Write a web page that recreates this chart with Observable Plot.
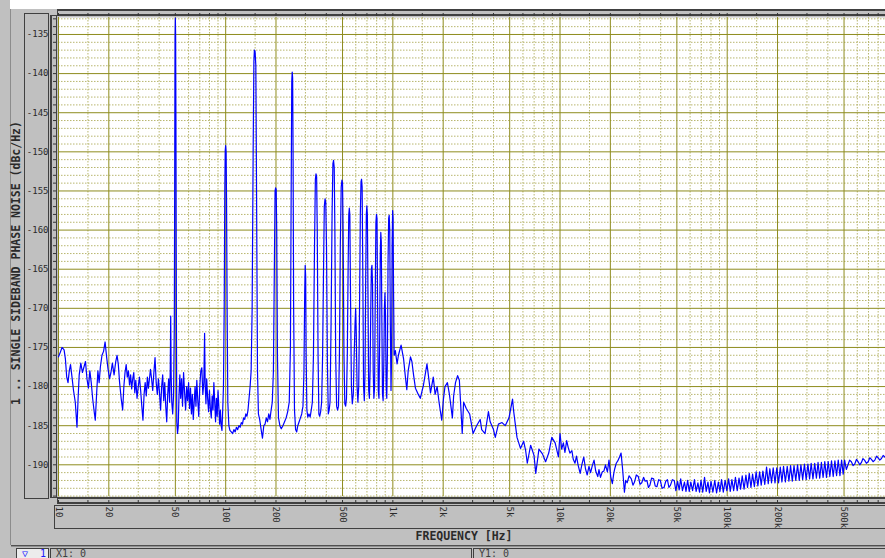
<!DOCTYPE html>
<html><head><meta charset="utf-8">
<script src="https://cdn.jsdelivr.net/npm/d3@7"></script>
<script src="https://cdn.jsdelivr.net/npm/@observablehq/plot@0.6"></script>
<style>
html,body{margin:0;padding:0;background:#c0c0c0;}
#wrap{position:relative;width:885px;height:558px;overflow:hidden;background:#c0c0c0;font-family:"DejaVu Sans Mono",monospace;}
.abs{position:absolute;box-sizing:border-box;}
#chart{position:absolute;left:0;top:0;}
.st{font-size:10px;color:#404040;line-height:10px;padding-left:5px;white-space:pre;}
</style></head><body>
<div id="wrap">
 <div class="abs" style="left:10px;top:0;width:875px;height:9px;background:#fff"></div>
 <div class="abs" style="left:10px;top:9px;width:1px;height:536px;background:#8c8c8c"></div>
 <div class="abs" style="left:24px;top:13px;width:25px;height:486px;border:1px solid #404040"></div>
 <div class="abs" style="left:50px;top:15px;width:7px;height:483px;border:1px solid #404040;border-left-width:2px"></div>
 <div class="abs" style="left:57px;top:9px;width:830px;height:7px;border-style:solid;border-color:#404040;border-width:2px 0 2px 1px"></div>
 <div class="abs" style="left:57px;top:497px;width:830px;height:7px;border-style:solid;border-color:#404040;border-width:2px 0 2px 1px"></div>
 <div class="abs" style="left:54px;top:505px;width:835px;height:24px;border:1px solid #404040"></div>
 <div class="abs" style="left:11px;top:545px;width:874px;height:2px;border-top:1px solid #505050;border-bottom:1px solid #909090"></div>
 <div class="abs st" style="left:16px;top:548px;width:33px;height:12px;border:1px solid #404040;background:#ececec;color:#1a1aff">▽  1</div>
 <div class="abs st" style="left:50px;top:548px;width:422px;height:12px;border:1px solid #404040">X1: 0</div>
 <div class="abs st" style="left:473px;top:548px;width:414px;height:12px;border:1px solid #404040">Y1: 0</div>
 <div id="chart"></div>
</div>
<script>
// Measured trace: [frequency Hz, dBc/Hz]
const band10to100 = [
 [10,-176.2],[10.3,-175.5],[10.5,-175.0],[10.8,-175.3],[11.0,-176.5],[11.2,-178.8],[11.4,-179.5],[11.6,-178.0],
 [11.8,-177.2],[12.0,-178.5],[12.3,-180.5],[12.6,-182.0],[12.9,-185.2],[13.1,-181.5],[13.3,-178.5],[13.6,-177.0],
 [13.9,-178.2],[14.2,-177.5],[14.5,-176.8],[14.8,-179.0],[15.1,-180.2],[15.4,-178.0],[15.7,-179.5],[16.0,-181.5],
 [16.3,-183.0],[16.6,-184.3],[16.9,-181.0],[17.2,-178.0],[17.5,-179.5],[17.8,-177.5],[18.2,-176.0],[18.6,-175.5],
 [19.0,-174.3],[19.4,-176.2],[19.8,-177.8],[20.2,-179.0],[20.6,-178.2],[21.0,-177.0],[21.5,-178.5],[22.0,-176.8],
 [22.4,-176.0],[22.8,-177.2],[23.2,-179.5],[23.7,-181.5],[24.2,-183.0],[24.6,-180.0],[25.0,-178.2],[25.4,-177.2],
 [25.8,-178.8],[26.2,-178.0],[26.6,-179.8],[27.0,-178.5],[27.4,-180.3],[27.8,-179.0],[28.2,-178.2],[28.6,-180.8],
 [29.0,-179.2],[29.5,-181.5],[30.0,-180.0],[30.5,-178.8],[31.0,-180.5],[31.5,-182.5],[32.0,-184.3],[32.5,-181.0],
 [33.0,-179.5],[33.5,-181.2],[34.0,-178.8],[34.5,-180.2],[35.0,-179.0],[35.5,-177.8],[36.0,-178.9],[36.6,-180.5],
 [37.2,-178.2],[37.8,-176.3],[38.4,-179.5],[39.0,-181.0],[39.6,-179.0],[40.2,-180.8],[40.8,-183.0],[41.4,-180.0],
 [42.0,-178.5],[42.6,-181.8],[43.2,-179.5],[43.8,-182.5],[44.4,-184.5],[45.0,-181.0],[45.6,-179.0],[46.2,-182.0],
 [46.6,-178.0],[46.9,-171.0],[47.2,-178.5],[47.6,-182.0],[48.2,-183.5],[48.8,-181.0],[49.3,-172.0],[49.6,-150.0],
 [49.8,-135.5],[50.0,-132.9],[50.2,-135.2],[50.4,-146.0],[50.7,-170.0],[51.0,-184.5],[51.5,-186.0],[52.0,-185.2],
 [52.6,-181.0],[53.2,-178.5],[53.8,-181.5],[54.5,-179.0],[55.2,-182.5],[56.0,-178.2],[56.8,-180.8],[57.6,-183.0],
 [58.4,-180.0],[59.2,-181.8],[60.0,-179.5],[60.8,-182.8],[61.6,-180.2],[62.4,-183.5],[63.2,-181.0],[64.0,-184.2],
 [64.8,-182.0],[65.6,-180.0],[66.4,-182.5],[67.2,-179.2],[68.0,-181.5],[69.0,-183.8],[70.0,-180.0],[71.0,-178.0],
 [72.0,-177.6],[73.0,-181.0],[74.0,-179.5],[74.8,-173.2],[75.4,-179.8],[76.2,-182.2],[77.0,-179.0],[78.0,-181.5],
 [79.0,-183.2],[80.0,-180.5],[81.0,-182.8],[82.0,-184.0],[83.0,-181.2],[84.0,-183.0],[85.0,-179.5],[86.0,-182.0],
 [87.0,-184.5],[88.0,-181.5],[89.0,-183.8],[90.0,-180.5],[91.0,-182.5],[92.0,-184.8],[93.0,-183.0],[94.0,-185.0],
 [95.0,-185.6],[96.0,-183.0],[97.0,-180.0],[98.0,-170.0],[98.8,-155.0],[99.4,-149.8],[100.0,-149.2]
];
const band100to1k = [
 [100.6,-150.0],[101.2,-156.0],[102,-170.0],[103,-182.0],[104.5,-185.0],[106,-185.6],[108,-185.8],[110,-186.0],
 [112,-185.5],[114,-185.8],[116,-185.2],[118,-185.5],[120,-185.0],[122,-185.2],[124,-184.6],[126,-184.8],
 [128,-184.0],[130,-184.2],[132,-183.5],[134,-183.8],[136,-183.0],[138,-181.5],[140,-180.0],[142,-178.0],
 [144,-170.0],[146,-150.0],[147.5,-138.5],[148.5,-137.0],[150,-137.2],[151.5,-139.0],[153,-155.0],[155,-178.0],
 [157,-183.5],[160,-184.3],[163,-185.5],[166,-186.6],[169,-185.0],[172,-184.8],[175,-184.0],[178,-184.5],
 [181,-183.5],[184,-184.2],[187,-183.0],[190,-182.0],[193,-178.0],[195.5,-165.0],[197.5,-155.0],[199,-154.6],
 [200.5,-154.8],[202,-160.0],[204,-176.0],[207,-184.0],[211,-185.0],[215,-185.4],[220,-185.0],[225,-184.5],
 [230,-184.0],[235,-183.2],[240,-182.0],[244,-175.0],[246.5,-155.0],[248.5,-141.0],[250,-139.8],[251.5,-140.5],
 [253,-150.0],[255,-170.0],[258,-183.0],[262,-185.5],[266,-185.8],[270,-185.0],[275,-184.5],[280,-184.0],
 [285,-183.5],[290,-182.5],[294,-178.0],[297,-168.0],[299,-164.5],[301,-166.0],[303,-176.0],[306,-183.0],
 [310,-183.9],[315,-183.5],[320,-183.9],[325,-183.0],[330,-182.0],[335,-176.0],[340,-162.0],[344,-153.5],
 [347,-152.8],[350,-153.2],[353,-160.0],[357,-176.0],[361,-183.5],[365,-183.8],[370,-183.2],[375,-182.0],
 [380,-176.0],[385,-165.0],[389,-157.0],[393,-156.0],[397,-156.5],[401,-162.0],[406,-177.0],[411,-183.5],
 [416,-183.0],[421,-182.0],[427,-172.0],[433,-158.0],[438,-151.5],[442,-151.1],[446,-152.0],[450,-160.0],
 [455,-176.0],[461,-182.5],[467,-183.0],[473,-182.5],[479,-176.0],[485,-162.0],[491,-154.5],[496,-153.6],
 [500,-154.0],[504,-160.0],[510,-176.0],[516,-182.2],[522,-182.5],[528,-181.5],[534,-176.0],[540,-165.0],
 [545,-158.0],[549,-157.2],[553,-158.0],[558,-168.0],[565,-180.0],[572,-182.2],[580,-181.0],[587,-176.0],
 [594,-172.0],[599,-170.0],[604,-173.0],[611,-180.0],[618,-182.0],[625,-180.0],[632,-170.0],[639,-158.0],
 [645,-153.8],[650,-153.5],[655,-154.5],[661,-165.0],[668,-180.0],[675,-181.8],[682,-178.0],[688,-166.0],
 [694,-158.0],[699,-156.9],[704,-158.0],[710,-168.0],[717,-180.5],[724,-181.5],[731,-178.0],[738,-170.0],
 [744,-165.0],[750,-164.5],[756,-167.0],[763,-178.0],[770,-181.5],[778,-180.0],[785,-168.0],[792,-159.0],
 [798,-158.0],[804,-158.5],[811,-170.0],[818,-180.5],[826,-181.5],[834,-174.0],[841,-163.0],[847,-160.3],
 [853,-161.5],[860,-172.0],[867,-181.0],[875,-181.8],[883,-177.0],[890,-170.0],[897,-168.0],[904,-171.0],
 [912,-180.0],[920,-181.5],[928,-176.0],[936,-164.0],[944,-158.5],[951,-158.1],[958,-160.0],[966,-172.0],
 [975,-180.5],[983,-176.0],[990,-162.0],[997,-157.5],[1003,-158.5],[1010,-168.0],[1018,-176.0]
];
const band1kto10k = [
 [1035,-175.4],[1060,-177.1],[1080,-176.0],[1120,-174.7],[1160,-176.5],[1185,-178.5],[1212,-180.4],[1235,-178.0],
 [1275,-176.2],[1300,-176.8],[1330,-178.5],[1365,-180.2],[1420,-181.0],[1460,-181.5],[1525,-179.8],[1600,-177.1],
 [1630,-178.5],[1680,-180.8],[1745,-178.8],[1790,-181.0],[1840,-180.0],[1890,-182.0],[1960,-184.3],[2010,-181.5],
 [2050,-180.0],[2120,-179.5],[2180,-181.0],[2270,-184.0],[2310,-181.2],[2370,-179.5],[2440,-178.6],[2500,-179.2],
 [2600,-186.0],[2650,-182.0],[2750,-182.8],[2880,-183.5],[3020,-186.0],[3170,-185.0],[3330,-184.2],[3400,-185.5],
 [3560,-186.0],[3730,-183.2],[3820,-184.5],[4000,-185.5],[4100,-186.5],[4280,-184.8],[4500,-184.6],[4700,-185.0],
 [4950,-184.0],[5200,-181.6],[5270,-183.0],[5400,-184.8],[5530,-186.5],[5800,-187.9],[6060,-187.0],[6230,-188.2],
 [6370,-189.8],[6670,-187.5],[6990,-188.8],[7160,-191.1],[7480,-188.0],[7850,-188.6],[8200,-189.6],[8560,-188.5],
 [8930,-186.5],[9350,-187.2],[9780,-189.0]
];
const band10kto900k = [
 [10000,-186.0],[10230,-188.0],[10470,-187.2],[10700,-188.4],[10960,-186.9],[11200,-187.8],[11460,-188.5],[11780,-188.2],
 [12000,-189.3],[12290,-189.8],[12550,-188.9],[12820,-190.0],[13200,-191.1],[13500,-190.0],[13870,-189.0],[14200,-190.5],
 [14540,-191.3],[14900,-190.2],[15240,-191.0],[15600,-190.1],[15980,-189.4],[16350,-190.8],[16820,-191.5],[17100,-190.6],
 [17460,-191.6],[17900,-190.9],[18300,-190.8],[18700,-190.0],[19200,-190.9],[19630,-189.4],[20100,-191.5],[20560,-192.4],
 [21000,-191.0],[21250,-190.5],[21700,-189.8],[22150,-189.5],[22700,-189.0],[23180,-188.5],[23670,-190.5],[24280,-193.5],
 [24700,-192.0],[25200,-192.3],[25900,-191.4],[26700,-191.8],[27300,-192.6],[27900,-192.2],[28600,-191.3],[29400,-191.5],
 [30100,-192.5],[30830,-192.3],[31600,-191.6],[32300,-192.1],[33100,-192.0],[33800,-192.9],[34500,-192.6],[35300,-191.7],
 [36300,-191.8],[37100,-192.7],[38000,-192.8],[38900,-191.9],[39800,-192.0],[40800,-193.0],[41900,-192.9],[42900,-192.1],
 [43900,-191.9],[44800,-192.9],[45800,-192.6],[47000,-191.9],
 [48200,-192.0],[49300,-193.3],[50500,-192.1],[51600,-193.2],[52700,-191.8],[54000,-193.3],[55500,-192.2],[56700,-193.4],
 [58000,-192.0],[59300,-193.4],[60600,-192.2],[62100,-193.3],[63700,-191.9],[65200,-193.4],[66800,-192.3],[68300,-193.5],
 [69700,-192.0],[71400,-193.5],[73200,-191.6],[74900,-193.4],[76700,-192.2],[78300,-193.6],[80000,-192.1],[82100,-193.5],
 [84300,-192.0],[86400,-193.6],[88500,-192.2],[90500,-193.4],[92500,-191.9],[94800,-193.5],[97200,-192.0],[99500,-193.3],
 [102000,-191.8],[104300,-193.4],[106700,-191.9],[109300,-193.3],[112000,-191.6],[114800,-193.3],[117700,-191.7],[120300,-193.1],
 [123000,-191.4],[126200,-193.1],[129400,-191.3],[132300,-192.9],[135500,-191.1],[138700,-192.9],[141800,-191.2],[145400,-192.8],
 [149000,-190.9],[152600,-192.7],[156300,-190.9],[159800,-192.6],[163500,-190.8],[167800,-192.5],[172000,-190.3],[176000,-192.4],
 [180000,-190.5],[184200,-192.3],[188400,-190.4],[193200,-192.3],[198000,-190.4],[202900,-192.3],[207800,-190.3],[212500,-192.2],
 [217300,-190.2],[222900,-192.2],[228600,-190.2],[234000,-192.1],[239400,-190.1],[245200,-192.1],[251000,-190.1],[257200,-192.0],
 [263500,-190.0],[269800,-192.0],[276000,-190.0],[282800,-191.9],[289800,-189.9],[296800,-191.9],[303900,-189.9],[311000,-191.8],
 [318000,-189.8],[325800,-191.8],[333800,-189.8],[341700,-191.7],[349500,-189.7],[357600,-191.7],[366000,-189.7],[374700,-191.6],
 [383500,-189.6],[392600,-191.6],[401900,-189.6],[411200,-191.5],[420700,-189.5],[430700,-191.5],[440800,-189.5],[451100,-191.4],
 [461600,-189.4],[472500,-191.4],[483500,-189.4],[494000,-191.2],[504000,-189.4],[516000,-190.6],
 [528000,-190.0],[540000,-189.4],[553000,-189.6],[566000,-190.1],[579500,-189.9],[593000,-189.3],[606900,-189.6],[621000,-190.0],
 [635400,-189.7],[649000,-189.2],[663000,-189.4],[680000,-189.8],[697000,-189.6],[713000,-189.1],[729000,-189.3],[746000,-189.6],
 [764000,-189.4],[782000,-188.9],[800000,-189.1],[818000,-189.4],[837000,-189.2],[857000,-188.8],[877000,-189.0],[898000,-189.2]
];

// Axis values and labels
const yMajor = [-135,-140,-145,-150,-155,-160,-165,-170,-175,-180,-185,-190];
const yGrid = [-133,-134,-135,-136,-137,-138,-139,-140,-141,-142,-143,-144,-145,-146,-147,-148,-149,-150,-151,-152,-153,-154,-155,-156,-157,-158,-159,-160,-161,-162,-163,-164,-165,-166,-167,-168,-169,-170,-171,-172,-173,-174,-175,-176,-177,-178,-179,-180,-181,-182,-183,-184,-185,-186,-187,-188,-189,-190,-191,-192,-193,-194];
const decades = [10,100,1000,10000,100000];
const majorSteps = [1,2,5];
const minorSteps = [1.5,3,4,6,7,8,9];
const xTickValues = [10,20,50,100,200,500,1000,2000,5000,10000,20000,50000,100000,200000,500000];
const xTickLabels = ["10","20","50","100","200","500","1k","2k","5k","10k","20k","50k","100k","200k","500k"];
const yTitle = "1 .. SINGLE SIDEBAND PHASE NOISE (dBc/Hz)";
const xTitle = "FREQUENCY [Hz]";

const xMajor = decades.flatMap(d => majorSteps.map(s => d * s));
const xMinor = decades.flatMap(d => minorSteps.map(s => d * s));
const xGrid = [...xMajor, ...xMinor];
const yMinor = yGrid.filter(v => !yMajor.includes(v));
const rows = [...band10to100, ...band100to1k, ...band1kto10k, ...band10kto900k].map(([f, v]) => ({f, v}));

const majorColor = "#8e8c1e";
const minorColor = "#b8b66e";

const plot = Plot.plot({
  width: 885, height: 558,
  marginLeft: 58, marginRight: 0, marginTop: 17, marginBottom: 62,
  style: {background: "transparent", fontFamily: "'DejaVu Sans Mono', monospace", fontSize: "9px", color: "#2a2a2a", overflow: "visible"},
  x: {type: "log", domain: [10, 885000]},
  y: {domain: [-194.05, -132.83]},
  marks: [
    Plot.frame({fill: "#ffffff", stroke: null}),
    Plot.ruleY(yMinor, {stroke: minorColor, strokeDasharray: "1.5,1.5"}),
    Plot.ruleX(xMinor, {stroke: minorColor, strokeDasharray: "1.5,1.5"}),
    Plot.ruleY(yMajor, {stroke: majorColor}),
    Plot.ruleX(xMajor, {stroke: majorColor}),
    Plot.line(rows, {x: "f", y: "v", stroke: "#0000ff", strokeWidth: 1.2, clip: true}),
    Plot.axisY(yMajor, {anchor: "left", tickSize: 0, tickPadding: 10, label: null, tickFormat: d => String(d)}),
    Plot.axisY(yGrid, {anchor: "left", tickSize: 3, dx: -2, tickFormat: () => "", label: null, stroke: "#333"}),
    Plot.axisX(xGrid, {anchor: "bottom", tickSize: 3, dy: 4, tickFormat: () => "", label: null, stroke: "#333"}),
    Plot.axisX(xGrid, {anchor: "top", tickSize: 3, dy: -2, tickFormat: () => "", label: null, stroke: "#333"}),
    Plot.text(xTickValues, {x: d => d, text: (d, i) => xTickLabels[i], frameAnchor: "bottom", rotate: 90, textAnchor: "start", lineAnchor: "middle", dy: 10}),
    Plot.text([yTitle], {frameAnchor: "left", dx: -42, dy: 6, rotate: -90, textAnchor: "middle", lineAnchor: "middle", fontWeight: "bold", fontSize: 11.5}),
    Plot.text([xTitle], {frameAnchor: "bottom", dx: -8, dy: 40, textAnchor: "middle", lineAnchor: "middle", fontWeight: "bold", fontSize: 11.5})
  ]
});
document.getElementById("chart").appendChild(plot);
</script>
</body></html>
